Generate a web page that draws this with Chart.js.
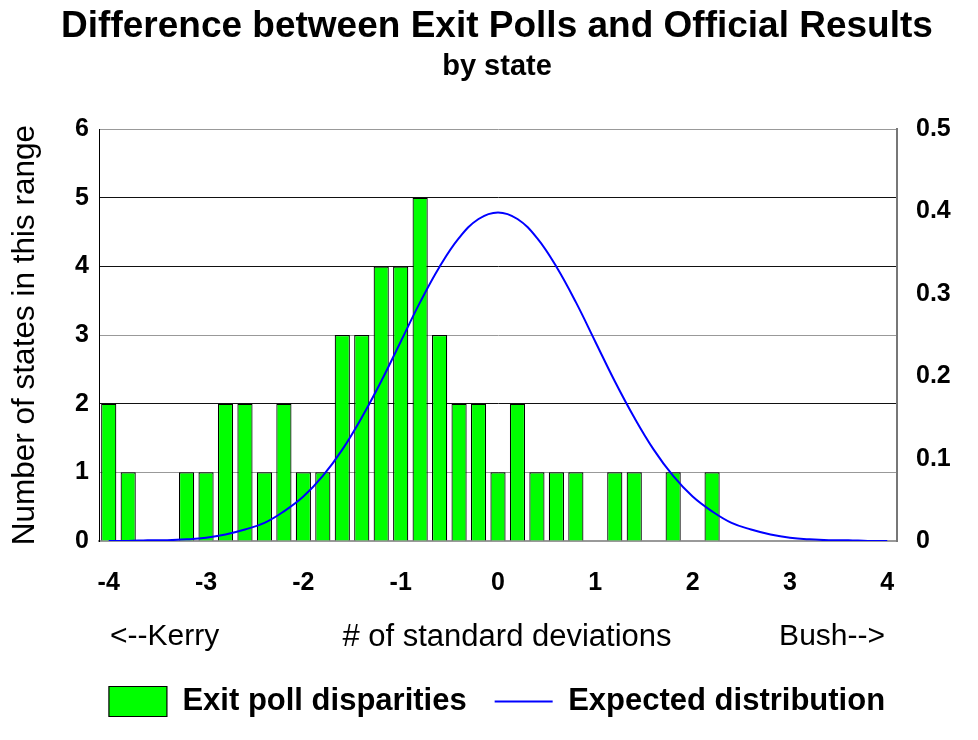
<!DOCTYPE html>
<html>
<head>
<meta charset="utf-8">
<title>Exit polls vs official results</title>
<script src="https://cdn.jsdelivr.net/npm/chart.js@4.4.1/dist/chart.umd.min.js"></script>
<style>
  body { margin: 0; background: #fff; }
  canvas { display: block; }
</style>
</head>
<body>
<canvas id="chart" width="978" height="740"></canvas>
<script>
// bins of 0.2 standard deviations
var bins = ["-4", "-3.8", "-3.6", "-3.4", "-3.2", "-3", "-2.8", "-2.6", "-2.4", "-2.2",
  "-2", "-1.8", "-1.6", "-1.4", "-1.2", "-1", "-0.8", "-0.6", "-0.4", "-0.2",
  "0", "0.2", "0.4", "0.6", "0.8", "1", "1.2", "1.4", "1.6", "1.8",
  "2", "2.2", "2.4", "2.6", "2.8", "3", "3.2", "3.4", "3.6", "3.8", "4"];

// number of states in each bin
var states = [2, 1, 0, 0, 1, 1, 2, 2, 1, 2,
  1, 1, 3, 3, 4, 4, 5, 3, 2, 2,
  1, 2, 1, 1, 1, 0, 1, 1, 0, 1,
  0, 1, 0, 0, 0, 0, 0, 0, 0, 0, 0];

// expected distribution (right axis)
var expected = [0.000, 0.000, 0.001, 0.001, 0.002, 0.004, 0.008, 0.014, 0.022, 0.036,
  0.054, 0.079, 0.111, 0.150, 0.194, 0.242, 0.290, 0.333, 0.368, 0.391,
  0.399, 0.391, 0.368, 0.333, 0.290, 0.242, 0.194, 0.150, 0.111, 0.079,
  0.054, 0.036, 0.022, 0.014, 0.008, 0.004, 0.002, 0.001, 0.001, 0.000, 0.000];

var leftTicks = [0, 1, 2, 3, 4, 5, 6];
var rightTicks = [0, 0.1, 0.2, 0.3, 0.4, 0.5];

var FONT = "'Liberation Sans', Arial, sans-serif";

// the three captions under the x tick labels
const bottomCaptions = {
  id: "bottomCaptions",
  afterDraw(chart) {
    const ctx = chart.ctx;
    const area = chart.chartArea;
    const y = area.bottom + 96;
    ctx.save();
    ctx.fillStyle = "#000";
    ctx.textBaseline = "middle";
    ctx.font = "30px " + FONT;
    ctx.textAlign = "left";
    ctx.fillText("<--Kerry", area.left + 11, y);
    ctx.textAlign = "right";
    ctx.fillText("Bush-->", area.right - 12, y);
    ctx.font = "31px " + FONT;
    ctx.textAlign = "center";
    ctx.fillText("# of standard deviations", (area.left + area.right) / 2 + 9, y);
    ctx.restore();
  },
};

const data = {
  labels: bins,
  datasets: [
    {
      type: "bar",
      label: "Exit poll disparities",
      data: states,
      backgroundColor: "#00ff00",
      borderColor: "#000",
      borderWidth: 1.2,
      barPercentage: 0.78,
      categoryPercentage: 1,
      pointStyle: "rect",
      yAxisID: "y",
      order: 1,
    },
    {
      type: "line",
      label: "Expected distribution",
      data: expected,
      borderColor: "#0000ff",
      borderWidth: 2,
      pointRadius: 0,
      pointStyle: "line",
      tension: 0.4,
      fill: false,
      yAxisID: "y2",
      order: 0,
    },
  ],
};

const config = {
  type: "bar",
  data: data,
  plugins: [bottomCaptions],
  options: {
    responsive: false,
    animation: false,
    layout: { padding: { left: 16, right: 0, top: 0, bottom: 13 } },
    plugins: {
      title: {
        display: true,
        text: "Difference between Exit Polls and Official Results",
        color: "#000",
        font: { family: FONT, size: 37, weight: "bold" },
        padding: { top: 5, bottom: 0 },
      },
      subtitle: {
        display: true,
        text: "by state",
        color: "#000",
        font: { family: FONT, size: 29, weight: "bold" },
        padding: { top: 0, bottom: 45 },
      },
      legend: {
        position: "bottom",
        labels: {
          color: "#000",
          font: { family: FONT, size: 31, weight: "bold" },
          usePointStyle: true,
          pointStyleWidth: 58,
          boxHeight: 30,
          padding: 28,
          sort: (a, b) => a.datasetIndex - b.datasetIndex,
        },
      },
      tooltip: { enabled: false },
    },
    scales: {
      x: {
        type: "category",
        offset: true,
        grid: { display: false, drawTicks: false },
        border: { color: "#999", width: 2 },
        ticks: {
          autoSkip: false,
          maxRotation: 0,
          padding: 27,
          color: "#000",
          font: { family: FONT, size: 25, weight: "bold" },
          callback: function (value) {
            const lab = this.getLabelForValue(value);
            return Number.isInteger(Number(lab)) ? lab : "";
          },
        },
        afterFit: (scale) => { scale.height = 117; },
      },
      y: {
        position: "left",
        min: 0,
        max: 6,
        afterBuildTicks: (scale) => { scale.ticks = leftTicks.map((v) => ({ value: v })); },
        grid: {
          drawTicks: false,
          color: (c) => ([5, 4, 2].includes(c.tick.value) ? "#111" : "#999"),
          lineWidth: 1,
        },
        border: { color: "#000", width: 1 },
        ticks: {
          padding: 10,
          color: "#000",
          font: { family: FONT, size: 25, weight: "bold" },
        },
        title: {
          display: true,
          text: "Number of states in this range",
          color: "#000",
          font: { family: FONT, size: 31.5 },
          padding: { top: -10, bottom: 0 },
        },
        afterFit: (scale) => { scale.width = 83; },
      },
      y2: {
        position: "right",
        min: 0,
        max: 0.5,
        afterBuildTicks: (scale) => { scale.ticks = rightTicks.map((v) => ({ value: v })); },
        grid: { display: false, drawTicks: false },
        border: { color: "#777", width: 2 },
        ticks: {
          padding: 19,
          color: "#000",
          font: { family: FONT, size: 25, weight: "bold" },
          callback: (v) => String(+v.toFixed(1)),
        },
        afterFit: (scale) => { scale.width = 81; },
      },
    },
  },
};

new Chart(document.getElementById("chart"), config);
</script>
</body>
</html>
